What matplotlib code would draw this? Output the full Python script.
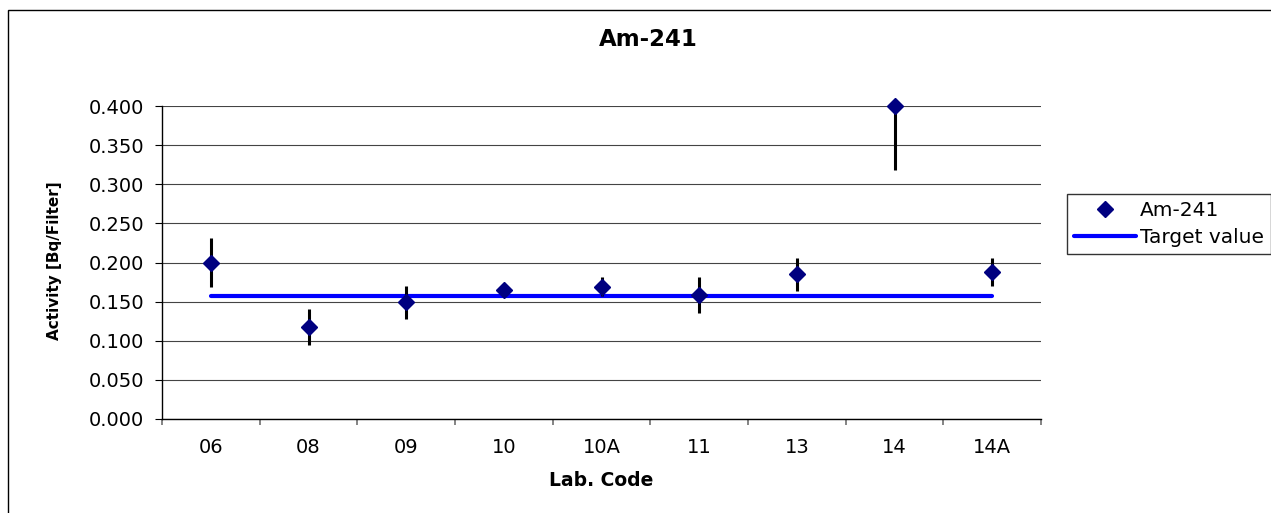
import numpy as np
import matplotlib.pyplot as plt
from matplotlib.patches import Rectangle
from matplotlib.lines import Line2D
from matplotlib.ticker import FixedLocator, FormatStrFormatter

# Дані
labs = ['06', '08', '09', '10', '10A', '11', '13', '14', '14A']
activity = [0.200, 0.118, 0.149, 0.165, 0.169, 0.159, 0.185, 0.400, 0.188]
uncert = [0.031, 0.023, 0.021, 0.006, 0.012, 0.023, 0.021, 0.082, 0.018]
target = 0.157

W, H = 1271, 513
fig = plt.figure(figsize=(W / 100, H / 100), dpi=100)
fig.patch.set_facecolor('white')

# Область побудови (у пікселях: ліво 162, право 1041, верх 106, низ 419)
ax = fig.add_axes([162 / W, 1 - 419 / H, (1041 - 162) / W, (419 - 106) / H])

x = np.arange(len(labs))

ax.errorbar(x, activity, yerr=uncert, fmt='none', ecolor='black',
            elinewidth=2.2, capsize=0, zorder=3)
ax.plot(x, [target] * len(x), color='#0000FF', lw=3, solid_capstyle='round', zorder=2)
ax.plot(x, activity, linestyle='none', marker='D', markersize=8.5,
        color='#000080', clip_on=False, zorder=4)

ax.set_xlim(-0.5, len(labs) - 0.5)
ax.set_ylim(0, 0.4)

ax.set_yticks(np.arange(0, 0.401, 0.05))
ax.yaxis.set_major_formatter(FormatStrFormatter('%.3f'))
ax.yaxis.grid(True, color='#444444', lw=0.8)
ax.set_axisbelow(True)

ax.set_xticks(x)
ax.set_xticklabels(labs)
ax.xaxis.set_minor_locator(FixedLocator(np.arange(-0.5, len(labs), 1.0)))

ax.tick_params(axis='y', direction='out', length=5, width=0.8, pad=8,
               labelsize=14, color='black')
ax.tick_params(axis='x', which='major', length=0, pad=14, labelsize=14)
ax.tick_params(axis='x', which='minor', direction='out', length=4.5,
               width=1.2, color='#707070')

for s in ['top', 'right']:
    ax.spines[s].set_visible(False)
for s in ['left', 'bottom']:
    ax.spines[s].set_color('black')
    ax.spines[s].set_linewidth(1)

# Підписи
fig.text(648 / W, 1 - 40 / H, 'Am-241', ha='center', va='center',
         fontsize=16.5, fontweight='bold')
fig.text(55 / W, 1 - 261 / H, 'Activity [Bq/Filter]', ha='center', va='center',
         rotation=90, fontsize=11, fontweight='bold')
fig.text(601 / W, 1 - 480 / H, 'Lab. Code', ha='center', va='center',
         fontsize=13.5, fontweight='bold')

# Легенда
handles = [Line2D([], [], linestyle='none', marker='D', markersize=8.5, color='#000080'),
           Line2D([], [], color='#0000FF', lw=3, solid_capstyle='round')]
leg = fig.legend(handles, ['Am-241', 'Target value'], loc='upper left',
                 bbox_to_anchor=(1067 / W, 1 - 194 / H), fontsize=14.5,
                 frameon=True, fancybox=False, handlelength=3.1,
                 handletextpad=0.15, labelspacing=0.4, borderpad=0.35,
                 borderaxespad=0)
leg.get_frame().set_edgecolor('black')
leg.get_frame().set_linewidth(1)

# Рамка області діаграми
fig.add_artist(Rectangle((8 / W, -0.1), 1.2, 1 - 10 / H + 0.1,
                         transform=fig.transFigure, fill=False,
                         edgecolor='black', lw=1))

fig.savefig('out.png', dpi=100)
